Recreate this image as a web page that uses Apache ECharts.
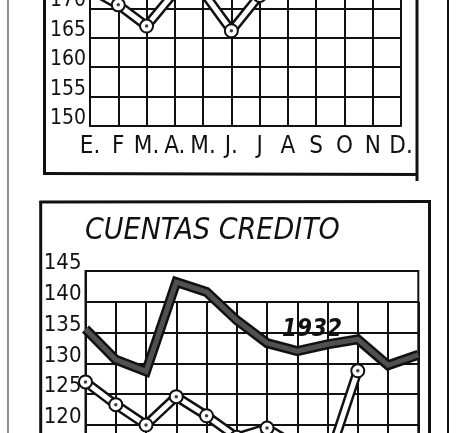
<!DOCTYPE html>
<html><head><meta charset="utf-8">
<script src="https://cdn.jsdelivr.net/npm/echarts@6/dist/echarts.min.js"></script>
<style>html,body{margin:0;padding:0;background:#fff}#c{width:457px;height:433px}</style>
</head><body><div id="c"></div>
<script>
// ---- data ----
const months = ['E.', 'F', 'M.', 'A.', 'M.', 'J.', 'J', 'A', 'S', 'O', 'N', 'D.'];
const topTicks = { min: 150, max: 175, step: 5 };
const topWhite = [173.3, 170.6, 167, 172.8, 172.8, 166.2, 172.2, null, null, null, null, null];
const bottomTitle = 'CUENTAS CREDITO';
const bottomTicks = { min: 115, max: 145, step: 5 };
const bottomThick = [135.6, 130.6, 128.7, 143.2, 141.6, 137, 133.3, 132, 133.1, 133.9, 129.7, 131.4];
const bottomWhite = [127, 123.3, 120, 124.6, 121.5, 118, 119.5, 116.5, 114, 128.8, null, null];
const thickLabel = '1932';

const numFont = "'Liberation Sans Narrow', 'DejaVu Sans Condensed', sans-serif";
const ink = '#111';

function yAxisCfg(gi, t, fs) {
  return {
    gridIndex: gi, type: 'value', min: t.min, max: t.max, interval: t.step,
    axisLine: { show: true, lineStyle: { color: ink, width: 2 } },
    axisTick: { show: false },
    splitLine: { show: true, lineStyle: { color: ink, width: 2 } },
    axisLabel: { color: ink, fontFamily: numFont, fontSize: fs, lineHeight: 15,
      verticalAlign: 'bottom', margin: 4 }
  };
}
function whiteSeries(xi, data) {
  return [
    { type: 'line', xAxisIndex: xi, yAxisIndex: xi, data: data, showSymbol: false,
      lineStyle: { color: ink, width: 10, join: 'miter' }, z: 3, silent: true },
    { type: 'line', xAxisIndex: xi, yAxisIndex: xi, data: data, symbol: 'circle', symbolSize: 13,
      showSymbol: true, showAllSymbol: true,
      itemStyle: { color: '#fff', borderColor: ink, borderWidth: 2 },
      lineStyle: { color: '#fff', width: 5, join: 'miter' }, z: 4, silent: true },
    { type: 'scatter', xAxisIndex: xi, yAxisIndex: xi, data: data, symbol: 'circle', symbolSize: 3.5,
      itemStyle: { color: ink }, z: 5, silent: true }
  ];
}

const chart = echarts.init(document.getElementById('c'), null, { renderer: 'canvas' });
chart.setOption({
  animation: false,
  backgroundColor: '#fff',
  grid: [
    { left: 90, right: 56, top: -21, height: 147, outerBoundsMode: 'none', containLabel: false },
    { left: 85.5, right: 38.7, top: 271, height: 184.8, show: true, borderColor: ink, borderWidth: 2,
      outerBoundsMode: 'none', containLabel: false },
    { left: 85.5, right: 38.7, top: 301.8, height: 154, outerBoundsMode: 'none', containLabel: false }
  ],
  xAxis: [
    { gridIndex: 0, type: 'category', data: months, boundaryGap: false,
      axisLine: { show: true, lineStyle: { color: ink, width: 2 } }, axisTick: { show: false },
      splitLine: { show: true, lineStyle: { color: ink, width: 2 } },
      axisLabel: { color: ink, fontFamily: numFont, fontSize: 24, margin: 9, interval: 0 } },
    { gridIndex: 1, type: 'category', data: months, boundaryGap: false,
      axisLine: { show: false }, axisTick: { show: false }, axisLabel: { show: false },
      splitLine: { show: false } },
    { gridIndex: 2, type: 'category', data: months, boundaryGap: false,
      axisLine: { show: false }, axisTick: { show: false }, axisLabel: { show: false },
      splitLine: { show: true, interval: 0, lineStyle: { color: ink, width: 2 } } }
  ],
  yAxis: [
    yAxisCfg(0, topTicks, 21),
    yAxisCfg(1, bottomTicks, 22),
    { gridIndex: 2, type: 'value', show: false }
  ],
  series: [
    ...whiteSeries(0, topWhite),
    { type: 'line', xAxisIndex: 1, yAxisIndex: 1, data: bottomThick, showSymbol: false,
      lineStyle: { color: ink, width: 10, join: 'miter' }, z: 2, silent: true },
    { type: 'line', xAxisIndex: 1, yAxisIndex: 1, data: bottomThick, showSymbol: false,
      lineStyle: { color: '#505050', width: 5, join: 'miter' }, z: 2, silent: true },
    ...whiteSeries(1, bottomWhite)
  ],
  graphic: [
    { type: 'line', shape: { x1: 8, y1: 0, x2: 8, y2: 433 }, style: { stroke: '#444', lineWidth: 1.2 } },
    { type: 'line', shape: { x1: 448, y1: 0, x2: 448, y2: 433 }, style: { stroke: ink, lineWidth: 2 } },
    { type: 'line', shape: { x1: 44.5, y1: 0, x2: 44.5, y2: 174 }, style: { stroke: ink, lineWidth: 3 } },
    { type: 'line', shape: { x1: 43, y1: 173.5, x2: 418, y2: 174.5 }, style: { stroke: ink, lineWidth: 3 } },
    { type: 'line', shape: { x1: 417, y1: 0, x2: 417, y2: 181 }, style: { stroke: ink, lineWidth: 3 } },
    { type: 'line', shape: { x1: 39.5, y1: 202, x2: 431, y2: 201.5 }, style: { stroke: ink, lineWidth: 3 } },
    { type: 'line', shape: { x1: 40.7, y1: 201, x2: 40.7, y2: 433 }, style: { stroke: ink, lineWidth: 3 } },
    { type: 'line', shape: { x1: 429.5, y1: 201, x2: 429.5, y2: 433 }, style: { stroke: ink, lineWidth: 3 } },
    { type: 'text', left: 85, top: 216, style: { text: bottomTitle, fill: ink,
        font: "italic 30px 'DejaVu Sans Condensed', sans-serif" } },
    { type: 'text', x: 282, y: 330, style: { text: thickLabel, fill: ink, verticalAlign: 'middle',
        font: "italic bold 24px 'DejaVu Sans Condensed', sans-serif" } }
  ]
});
</script></body></html>
